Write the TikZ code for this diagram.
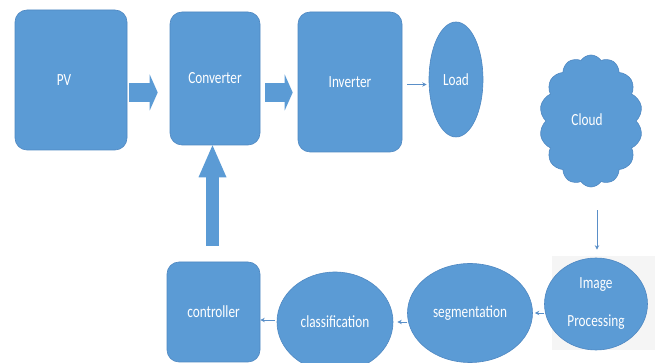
\documentclass[tikz,border=0pt]{standalone}
\usepackage{fontspec}
\newfontfamily\lab[FakeStretch=0.78]{Carlito}
\usetikzlibrary{shapes.geometric,shapes.symbols,arrows.meta,calc}
\definecolor{boxblue}{HTML}{5B9BD5}
\definecolor{edgeblue}{HTML}{4F88C2}
\definecolor{arrblue}{HTML}{5A8FC8}
\tikzset{
  lbl/.style={text=white,font=\lab\fontsize{17}{20}\selectfont,align=center,inner sep=0pt},
  rbox/.style={lbl,rectangle,rounded corners=12pt,fill=boxblue,draw=edgeblue,line width=0.6pt},
  ell/.style={lbl,ellipse,fill=boxblue,draw=edgeblue,line width=0.6pt},
  cloudbox/.style={lbl,cloud,cloud puffs=14,cloud puff arc=115,cloud ignores aspect,fill=boxblue,draw=edgeblue,line width=0.6pt},
  blockarrow/.style={draw=boxblue,line width=19pt,-{Triangle[length=8pt,width=36pt,line width=0pt]}},
  vblockarrow/.style={draw=boxblue,line width=13pt,-{Triangle[length=32pt,width=28pt,line width=0pt]}},
  thinarrow/.style={draw=arrblue,line width=0.8pt,-{Stealth[length=4.5pt,width=4.5pt]}}
}
\begin{document}
\begin{tikzpicture}[x=1pt,y=-1pt]
\clip (0,0) rectangle (657,363);
\useasboundingbox (0,0) rectangle (657,363);
\fill[white] (0,0) rectangle (657,363);
% faint backdrop behind Image Processing
\fill[black!4] (552,256) rectangle (655,350);

\node[rbox,minimum width=112pt,minimum height=140pt,label={[lbl,xshift=-7pt]center:PV}] (pv) at (71,80) {};
\node[rbox,minimum width=90pt,minimum height=133pt] (conv) at (215,78.5) {Converter};
\node[rbox,minimum width=104pt,minimum height=140pt] (inv) at (350,82) {Inverter};
\node[ell,minimum width=54pt,minimum height=115pt] (load) at (456,79.5) {Load};
\node[cloudbox,minimum width=103pt,minimum height=132pt,label={[lbl,xshift=-4pt,yshift=1pt]center:Cloud}] (cloud) at (591,121) {};
\node[ell,minimum width=103pt,minimum height=92pt] (img) at (596,304) {Image\\[18pt]Processing};
\node[ell,minimum width=125pt,minimum height=99pt] (seg) at (470,313) {segmentation};
\node[ell,minimum width=116pt,minimum height=100pt] (cls) at (335,322) {classification};
\node[rbox,minimum width=93pt,minimum height=100pt] (ctrl) at (213.5,312) {controller};

% block arrows
\draw[blockarrow,shorten <=2pt,shorten >=12pt] ([yshift=-12.5pt]pv.east) -- ([yshift=-12.5pt]pv.east -| conv.west);
\draw[blockarrow,shorten <=5pt,shorten >=5pt] ([yshift=-14pt]conv.east) -- ([yshift=-14pt]conv.east -| inv.west);
\draw[vblockarrow,shorten <=16pt] ([xshift=-1pt]ctrl.north) -- ([xshift=-1pt]ctrl.north |- conv.south);

% thin arrows
\draw[thinarrow,shorten <=5pt,shorten >=2pt] ([yshift=-2.5pt]inv.east) -- ([yshift=-2.5pt]inv.east -| load.west);
\draw[thinarrow,shorten <=23pt,shorten >=8pt] ([xshift=1pt]img.north |- cloud.south) -- ([xshift=1pt]img.north);
\draw[thinarrow,shorten >=2pt] ([yshift=-9pt]img.west) -- ([yshift=-9pt]img.west -| seg.east);
\draw[thinarrow,shorten >=4pt] ([yshift=-9pt]seg.west) -- ([yshift=-9pt]seg.west -| cls.east);
\draw[thinarrow,shorten <=2pt] ([yshift=2pt]cls.west) -- ([yshift=2pt]cls.west -| ctrl.east);
\end{tikzpicture}
\end{document}
